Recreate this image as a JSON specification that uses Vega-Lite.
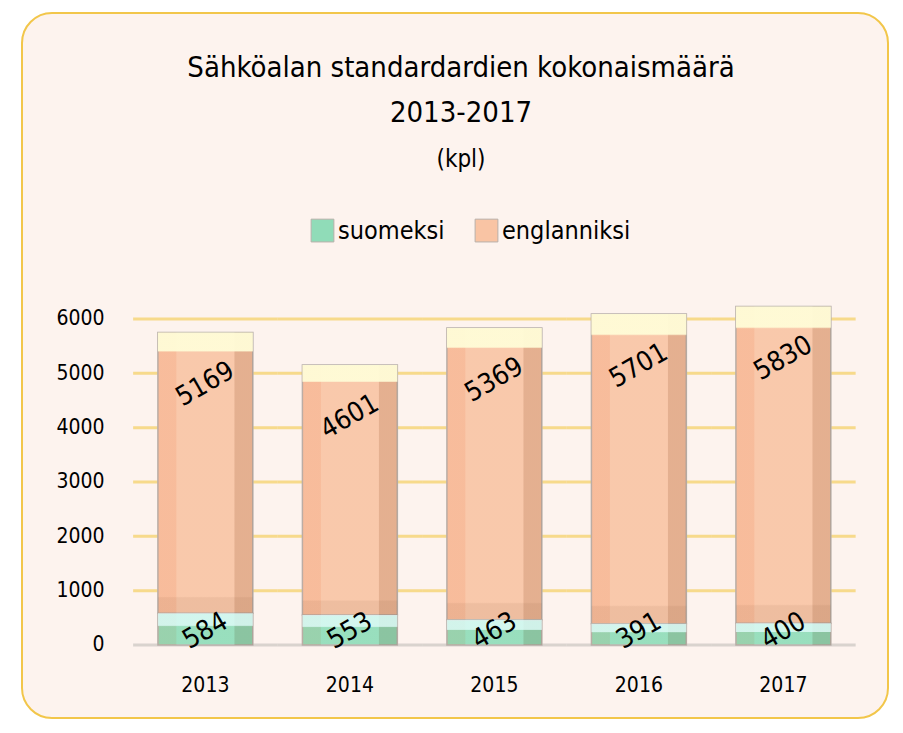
{
  "$schema": "https://vega.github.io/schema/vega-lite/v6.json",
  "autosize": "none",
  "padding": {"left": 22, "top": 13, "right": 15, "bottom": 15},
  "width": 866,
  "height": 705,
  "background": "white",
  "view": {"fill": "#fdf3ee", "stroke": "#f2c64a", "strokeWidth": 2, "cornerRadius": 30},
  "title": {
    "text": ["Sähköalan standardardien kokonaismäärä", "2013-2017"],
    "subtitle": "(kpl)",
    "font": "DejaVu Sans Condensed, sans-serif",
    "subtitleFont": "DejaVu Sans Condensed, sans-serif",
    "fontSize": 29,
    "fontWeight": "normal",
    "lineHeight": 45,
    "subtitleFontSize": 24,
    "subtitleColor": "#000",
    "subtitlePadding": 20,
    "color": "#000",
    "anchor": "middle",
    "frame": "group",
    "dx": 6,
    "offset": -159
  },
  "config": {
    "font": "DejaVu Sans Condensed, sans-serif"
  },
  "layer": [
    {
      "data": {"values": [
        {"year": "2013", "g": [0, 1000, 2000, 3000, 4000, 5000, 6000]},
        {"year": "2014", "g": [0, 1000, 2000, 3000, 4000, 5000, 6000]},
        {"year": "2015", "g": [0, 1000, 2000, 3000, 4000, 5000, 6000]},
        {"year": "2016", "g": [0, 1000, 2000, 3000, 4000, 5000, 6000]},
        {"year": "2017", "g": [0, 1000, 2000, 3000, 4000, 5000, 6000]}
      ]},
      "transform": [{"flatten": ["g"]}],
      "mark": {"type": "tick", "orient": "horizontal", "size": 144.5, "thickness": 3},
      "encoding": {
        "x": {"field": "year", "type": "nominal",
          "scale": {"domain": ["2013", "2014", "2015", "2016", "2017"], "paddingInner": 0.343, "paddingOuter": 0.668, "align": 0.704},
          "axis": {"title": null, "domain": false, "ticks": false, "tickSize": 0, "labelAngle": 0, "labelPadding": 0, "offset": -44, "labelFontSize": 21, "labelColor": "#000", "labelBaseline": "top"}},
        "y": {"field": "g", "type": "quantitative",
          "scale": {"domain": [-1344, 11632], "nice": false, "zero": false},
          "axis": {"title": null, "grid": false, "domain": false, "ticks": false, "tickSize": 0, "labelPadding": 0, "offset": -82, "format": "d", "values": [0, 1000, 2000, 3000, 4000, 5000, 6000], "labelFontSize": 21, "labelColor": "#000"}},
        "color": {"condition": {"test": "datum.g === 0", "value": "#c9c5c1"}, "value": "#f3cf61"}
      }
    },
    {
      "data": {"values": [
        {"year": "2013", "lang": "suomeksi", "n": 584, "o": 1},
        {"year": "2013", "lang": "englanniksi", "n": 5169, "o": 2},
        {"year": "2014", "lang": "suomeksi", "n": 553, "o": 1},
        {"year": "2014", "lang": "englanniksi", "n": 4601, "o": 2},
        {"year": "2015", "lang": "suomeksi", "n": 463, "o": 1},
        {"year": "2015", "lang": "englanniksi", "n": 5369, "o": 2},
        {"year": "2016", "lang": "suomeksi", "n": 391, "o": 1},
        {"year": "2016", "lang": "englanniksi", "n": 5701, "o": 2},
        {"year": "2017", "lang": "suomeksi", "n": 400, "o": 1},
        {"year": "2017", "lang": "englanniksi", "n": 5830, "o": 2}
      ]},
      "transform": [
        {"stack": "n", "groupby": ["year"], "sort": [{"field": "o", "order": "ascending"}], "as": ["y0", "y1"]}
      ],
      "layer": [
        {
          "mark": {"type": "bar", "stroke": "#b8b0aa", "strokeWidth": 1.5},
          "encoding": {
            "x": {"field": "year", "type": "nominal"},
            "y": {"field": "y0", "type": "quantitative"},
            "y2": {"field": "y1"},
            "color": {"field": "lang", "type": "nominal",
              "scale": {"domain": ["suomeksi", "englanniksi"], "range": ["#90dcb8", "#f9c4a4"]},
              "legend": {"orient": "none", "legendX": 288, "legendY": 205, "direction": "horizontal", "title": null, "symbolType": "square", "symbolSize": 520, "labelFont": "DejaVu Sans Condensed, sans-serif", "labelFontSize": 25, "labelColor": "#000", "columnPadding": 28, "labelOffset": 3, "padding": 0, "symbolStrokeColor": "#b8b0aa", "symbolStrokeWidth": 1}}
          }
        },
        {
          "mark": {"type": "bar", "fill": {"gradient": "linear", "x1": 0, "y1": 0, "x2": 1, "y2": 0, "stops": [
            {"offset": 0, "color": "rgba(235,120,80,0.10)"},
            {"offset": 0.19, "color": "rgba(235,120,80,0.10)"},
            {"offset": 0.2, "color": "rgba(255,255,255,0.08)"},
            {"offset": 0.8, "color": "rgba(255,255,255,0.08)"},
            {"offset": 0.81, "color": "rgba(110,60,30,0.15)"},
            {"offset": 1, "color": "rgba(110,60,30,0.15)"}
          ]}},
          "encoding": {
            "x": {"field": "year", "type": "nominal"},
            "y": {"field": "y0", "type": "quantitative"},
            "y2": {"field": "y1"}
          }
        },
        {
          "transform": [{"filter": "datum.lang === 'englanniksi'"}],
          "mark": {"type": "bar", "fill": {"gradient": "linear", "x1": 0, "y1": 0, "x2": 0, "y2": 1, "stops": [
            {"offset": 0, "color": "rgba(255,252,215,0.95)"},
            {"offset": 0.065, "color": "rgba(255,252,215,0.95)"},
            {"offset": 0.07, "color": "rgba(255,252,215,0)"},
            {"offset": 0.94, "color": "rgba(110,60,30,0)"},
            {"offset": 0.945, "color": "rgba(110,60,30,0.08)"},
            {"offset": 1, "color": "rgba(110,60,30,0.08)"}
          ]}},
          "encoding": {
            "x": {"field": "year", "type": "nominal"},
            "y": {"field": "y0", "type": "quantitative"},
            "y2": {"field": "y1"}
          }
        },
        {
          "transform": [{"filter": "datum.lang === 'suomeksi'"}],
          "mark": {"type": "bar", "fill": {"gradient": "linear", "x1": 0, "y1": 0, "x2": 0, "y2": 1, "stops": [
            {"offset": 0, "color": "rgba(225,252,250,0.8)"},
            {"offset": 0.38, "color": "rgba(225,252,250,0.8)"},
            {"offset": 0.42, "color": "rgba(225,252,250,0)"},
            {"offset": 1, "color": "rgba(225,252,250,0)"}
          ]}},
          "encoding": {
            "x": {"field": "year", "type": "nominal"},
            "y": {"field": "y0", "type": "quantitative"},
            "y2": {"field": "y1"}
          }
        },
        {
          "transform": [{"filter": "datum.lang === 'englanniksi'"}],
          "mark": {"type": "text", "angle": -30, "dx": -26, "dy": 45, "fontSize": 27, "color": "#000", "align": "center", "baseline": "middle"},
          "encoding": {
            "x": {"field": "year", "type": "nominal"},
            "y": {"field": "y1", "type": "quantitative"},
            "text": {"field": "n", "type": "quantitative", "format": "d"}
          }
        },
        {
          "transform": [{"filter": "datum.lang === 'suomeksi'"}],
          "mark": {"type": "text", "angle": -30, "dx": 7, "dy": -12, "fontSize": 27, "color": "#000", "align": "center", "baseline": "middle"},
          "encoding": {
            "x": {"field": "year", "type": "nominal"},
            "y": {"field": "y0", "type": "quantitative"},
            "text": {"field": "n", "type": "quantitative", "format": "d"}
          }
        }
      ]
    }
  ]
}
